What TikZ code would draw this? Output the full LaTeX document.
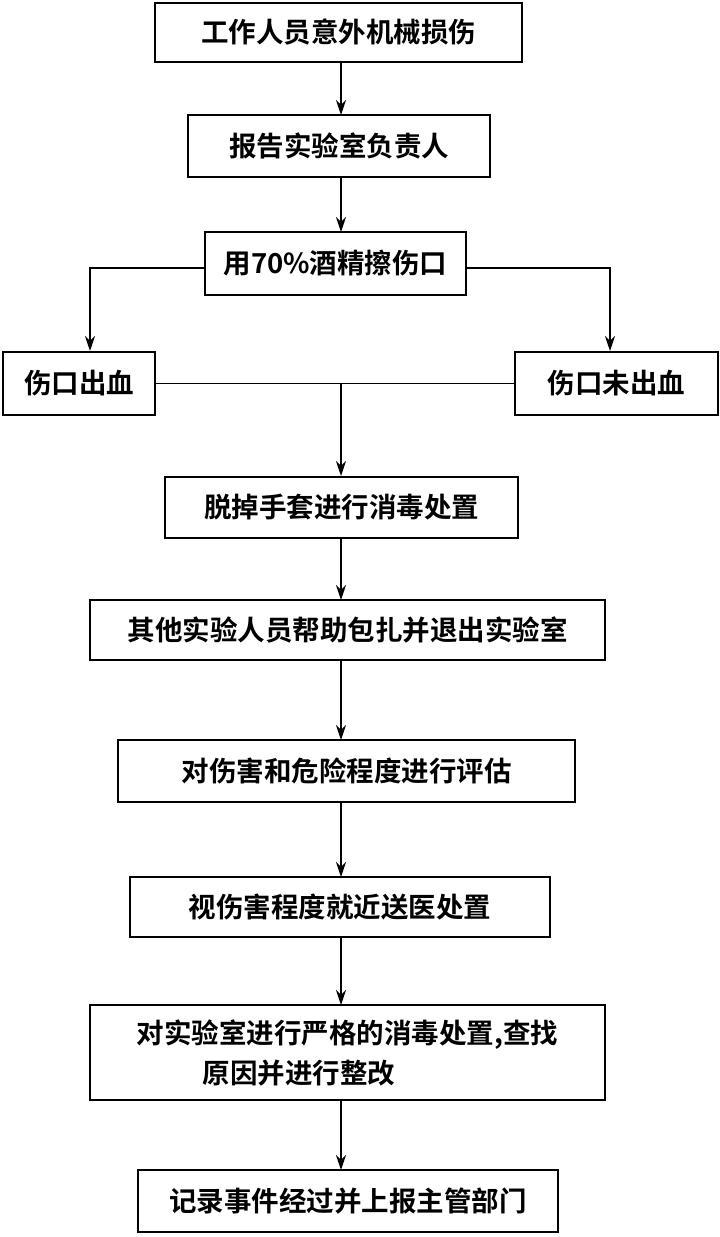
\documentclass[tikz,border=0pt]{standalone}
\usepackage{fontspec}
\setmainfont{Noto Sans CJK SC}[BoldFont={Noto Sans CJK SC Bold}]
\usetikzlibrary{arrows.meta}
\begin{document}
\begin{tikzpicture}[x=1pt,y=-1pt,
  box/.style={draw,line width=2pt,inner sep=0pt,font=\fontsize{27.5}{40}\selectfont\bfseries,align=center},
  arr/.style={line width=1.8pt,-{Stealth[length=15pt,width=10pt]}},
  ln/.style={line width=1.8pt}]
\useasboundingbox (0,0) rectangle (720,1237);
\newcommand\bx[6]{\node[box,minimum width=#4-#2,minimum height=#5-#3] (#1) at ({(#2+#4)/2},{(#3+#5)/2}) {#6};}
\bx{b1}{155}{3}{522}{62}{工作人员意外机械损伤}
\bx{b2}{188}{115}{490}{177}{报告实验室负责人}
\bx{b3}{205}{232}{466}{295}{用70\%酒精擦伤口}
\bx{b4}{3}{352}{155}{415}{伤口出血}
\bx{b5}{515}{352}{718}{415}{伤口未出血}
\bx{b6}{165}{477}{518}{538}{脱掉手套进行消毒处置}
\bx{b7}{90}{600}{605}{660}{其他实验人员帮助包扎并退出实验室}
\bx{b8}{118}{740}{575}{802}{对伤害和危险程度进行评估}
\bx{b9}{130}{877}{550}{937}{视伤害程度就近送医处置}
\node[box,minimum width=515,minimum height=95,align=left] (b10) at (347.5,1052.5) {对实验室进行严格的消毒处置,查找\\\hspace*{2.4em}原因并进行整改};
\bx{b11}{138}{1170}{558}{1232}{记录事件经过并上报主管部门}
\draw[arr] (341,62) -- (341,115);
\draw[arr] (341,177) -- (341,232);
\draw[arr] (b3.west|-0,268) -| (b4.north-|90,0);
\draw[arr] (b3.east|-0,268) -| (b5.north-|610,0);
\draw[ln] (b4.east) -- (b5.west);
\coordinate (m) at (341,384);
\draw[arr] (m) -- (b6.north-|m);
\draw[arr] (341,538) -- (341,600);
\draw[arr] (341,660) -- (341,740);
\draw[arr] (341,802) -- (341,877);
\draw[arr] (341,937) -- (341,1005);
\draw[arr] (341,1100) -- (341,1170);
\end{tikzpicture}
\end{document}
